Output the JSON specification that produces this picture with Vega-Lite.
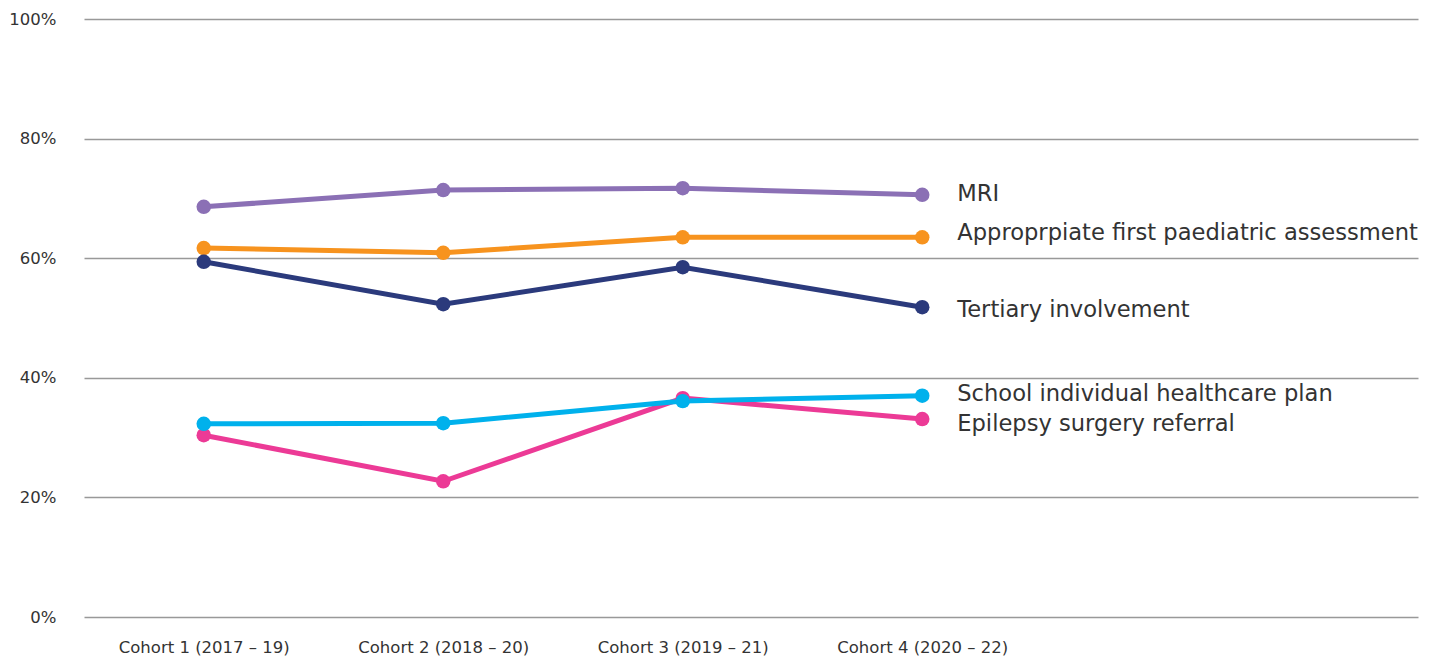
{
  "$schema": "https://vega.github.io/schema/vega-lite/v6.json",
  "autosize": {"type": "none"},
  "padding": {"left": 84, "top": 19, "right": 15, "bottom": 43},
  "width": 1334,
  "height": 598,
  "background": "white",
  "config": {
    "view": {"stroke": null},
    "font": "DejaVu Sans"
  },
  "datasets": {
    "points": [
      {"cohort": 1, "series": "MRI", "value": 68.6},
      {"cohort": 2, "series": "MRI", "value": 71.4},
      {"cohort": 3, "series": "MRI", "value": 71.7},
      {"cohort": 4, "series": "MRI", "value": 70.6},
      {"cohort": 1, "series": "Approprpiate first paediatric assessment", "value": 61.7},
      {"cohort": 2, "series": "Approprpiate first paediatric assessment", "value": 60.9},
      {"cohort": 3, "series": "Approprpiate first paediatric assessment", "value": 63.5},
      {"cohort": 4, "series": "Approprpiate first paediatric assessment", "value": 63.5},
      {"cohort": 1, "series": "Tertiary involvement", "value": 59.4},
      {"cohort": 2, "series": "Tertiary involvement", "value": 52.3},
      {"cohort": 3, "series": "Tertiary involvement", "value": 58.5},
      {"cohort": 4, "series": "Tertiary involvement", "value": 51.8},
      {"cohort": 1, "series": "Epilepsy surgery referral", "value": 30.4},
      {"cohort": 2, "series": "Epilepsy surgery referral", "value": 22.7},
      {"cohort": 3, "series": "Epilepsy surgery referral", "value": 36.6},
      {"cohort": 4, "series": "Epilepsy surgery referral", "value": 33.1},
      {"cohort": 1, "series": "School individual healthcare plan", "value": 32.3},
      {"cohort": 2, "series": "School individual healthcare plan", "value": 32.4},
      {"cohort": 3, "series": "School individual healthcare plan", "value": 36.1},
      {"cohort": 4, "series": "School individual healthcare plan", "value": 37.0}
    ],
    "labels": [
      {"cohort": 4, "series": "MRI", "labelValue": 70.8},
      {"cohort": 4, "series": "Approprpiate first paediatric assessment", "labelValue": 64.2},
      {"cohort": 4, "series": "Tertiary involvement", "labelValue": 51.3},
      {"cohort": 4, "series": "School individual healthcare plan", "labelValue": 37.3},
      {"cohort": 4, "series": "Epilepsy surgery referral", "labelValue": 32.3}
    ]
  },
  "layer": [
    {
      "data": {"name": "points"},
      "mark": {"type": "line", "strokeWidth": 5},
      "encoding": {
        "x": {
          "field": "cohort", "type": "quantitative",
          "scale": {"domain": [0.5, 6.07], "nice": false, "zero": false},
          "axis": {
            "title": null, "values": [1, 2, 3, 4], "grid": false, "domain": false, "ticks": false,
            "labelExpr": "['', 'Cohort 1 (2017 – 19)', 'Cohort 2 (2018 – 20)', 'Cohort 3 (2019 – 21)', 'Cohort 4 (2020 – 22)'][datum.value]",
            "labelFontSize": 16.5, "labelColor": "#333333", "labelPadding": 22, "labelFont": "DejaVu Sans"
          }
        },
        "y": {
          "field": "value", "type": "quantitative",
          "scale": {"domain": [0, 100], "nice": false},
          "axis": {
            "title": null, "values": [0, 20, 40, 60, 80, 100], "domain": false, "ticks": false,
            "labelExpr": "datum.value + '%'",
            "labelFontSize": 16.5, "labelColor": "#333333", "labelPadding": 28,
            "gridColor": "#999999", "gridWidth": 1.5, "labelFont": "DejaVu Sans"
          }
        },
        "color": {
          "field": "series", "type": "nominal", "legend": null,
          "scale": {
            "domain": ["MRI", "Approprpiate first paediatric assessment", "Tertiary involvement", "School individual healthcare plan", "Epilepsy surgery referral"],
            "range": ["#8b70b5", "#f7931e", "#2b3a7c", "#00b1ec", "#ec3a96"]
          }
        }
      }
    },
    {
      "data": {"name": "points"},
      "mark": {"type": "circle", "size": 210, "opacity": 1},
      "encoding": {
        "x": {"field": "cohort", "type": "quantitative"},
        "y": {"field": "value", "type": "quantitative"},
        "color": {"field": "series", "type": "nominal", "legend": null}
      }
    },
    {
      "data": {"name": "labels"},
      "mark": {"type": "text", "align": "left", "baseline": "middle", "dx": 35, "fontSize": 22.6, "color": "#333333", "font": "DejaVu Sans"},
      "encoding": {
        "x": {"field": "cohort", "type": "quantitative"},
        "y": {"field": "labelValue", "type": "quantitative"},
        "text": {"field": "series"}
      }
    }
  ]
}
